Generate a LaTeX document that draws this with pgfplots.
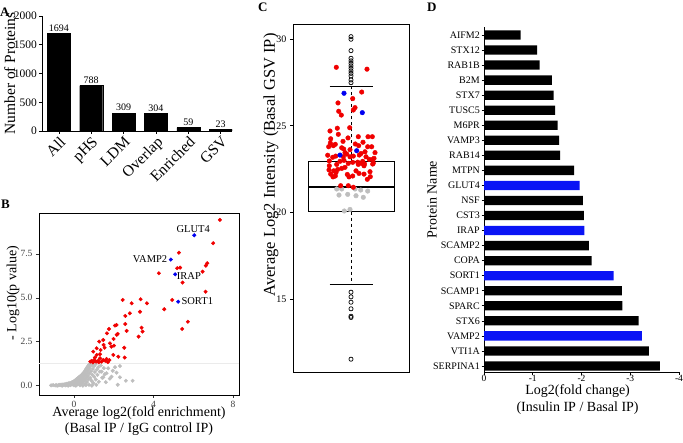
\documentclass[border=0pt]{standalone}
\usepackage{pgfplots}
\pgfplotsset{compat=1.18}
\usepackage{fontspec}
\setmainfont{Liberation Serif}
\newcommand\fs[1]{\fontsize{#1}{#1}\selectfont}
\definecolor{ptred}{HTML}{F00000}
\definecolor{ptblue}{HTML}{0000F0}
\definecolor{ptgray}{HTML}{BEBEBE}
\definecolor{barblue}{HTML}{0A14F5}
\begin{document}
\begin{tikzpicture}
\path[use as bounding box] (0pt,0pt) rectangle (683pt,442pt);
% panel letters
\node[anchor=north west, inner sep=0pt, font=\bfseries\fs{13}] at (0pt,434pt) {A};
\node[anchor=north west, inner sep=0pt, font=\bfseries\fs{13}] at (1pt,242pt) {B};
\node[anchor=north west, inner sep=0pt, font=\bfseries\fs{13}] at (258pt,439pt) {C};
\node[anchor=north west, inner sep=0pt, font=\bfseries\fs{13}] at (427pt,439pt) {D};

% ---------------- Panel A ----------------
\begin{axis}[at={(42pt,311pt)}, anchor=south west, scale only axis,
  width=190pt, height=115pt,
  axis x line*=bottom, axis y line*=left, axis line style={-, line width=0.8pt},
  xmin=-0.52, xmax=5.35, ymin=0, ymax=2000,
  xtick={0,...,5}, xticklabels={All,pHS,LDM,Overlap,Enriched,GSV},
  ytick={0,500,1000,1500,2000},
  tick align=outside, major tick length=3pt, tick style={black, line width=0.6pt},
  x tick label style={rotate=45, anchor=north east, font=\fs{15.5}, inner sep=1pt},
  y tick label style={font=\fs{11.5}, inner sep=2pt},
  /pgf/number format/assume math mode=true,
  /pgf/number format/1000 sep={},
  scaled y ticks=false,
  ylabel={Number of Proteins},
  ylabel style={font=\fs{15.5}, at={(axis description cs:-0.17,0.5)}, anchor=center},
  ybar, bar width=23pt,
  nodes near coords,
  every node near coord/.append style={font=\fs{10}, black, inner sep=2pt},
]
\addplot[fill=black, draw=black] coordinates {(0,1694) (1,788) (2,309) (3,304) (4,59) (5,23)};
\end{axis}

% ---------------- Panel B ----------------
\begin{axis}[at={(39pt,47pt)}, anchor=south west, scale only axis,
  width=200pt, height=182pt,
  xmin=-1.76, xmax=8.3, ymin=-0.53, ymax=9.83,
  xtick={0,4,8}, ytick={0,2.5,5,7.5},
  yticklabel style={/pgf/number format/.cd, fixed, fixed zerofill, precision=1},
  xtick pos=bottom, ytick pos=left,
  tick align=outside, major tick length=3pt, tick style={black!80, line width=0.6pt},
  axis line style={line width=0.9pt},
  tick label style={font=\fs{9.5}, text=black!75},
  /pgf/number format/assume math mode=true,
  xlabel={Average log2(fold enrichment)\\(Basal IP / IgG control IP)},
  xlabel style={font=\fontsize{14}{16}\selectfont, align=center, inner sep=0pt,
     at={(axis description cs:0.5,-0.065)}, anchor=north},
  ylabel={- Log10(p value)},
  ylabel style={font=\fs{14}, at={(axis description cs:-0.13,0.56)}, anchor=center},
]
\addplot[color=black!8, line width=0.5pt] coordinates {(-1.76,1.3) (8.3,1.3)};
% non-significant (gray)
\addplot[only marks, mark=*, mark size=1.8pt, color=ptgray] coordinates {
(-1.15,0.02) (-1.05,0.03) (-0.95,0.01) (-0.9,0.04) (-0.85,0.0) (-0.8,0.02) (-0.75,0.05) (-0.7,0.03)
(-0.65,0.06) (-0.6,0.02) (-0.6,0.0) (-0.55,0.07) (-0.5,0.04) (-0.45,0.09) (-0.42,0.02) (-0.38,0.06)
(-0.35,0.11) (-0.3,0.04) (-0.3,0.0) (-0.28,0.13) (-0.25,0.08) (-0.2,0.15) (-0.18,0.03) (-0.15,0.1)
(-0.12,0.18) (-0.1,0.06) (-0.08,0.2) (-0.05,0.12) (-0.02,0.24) (0.0,0.02) (0.02,0.16) (0.05,0.28)
(0.06,0.08) (0.08,0.32) (0.1,0.2) (0.1,0.0) (0.12,0.36) (0.14,0.05) (0.15,0.26) (0.17,0.4)
(0.2,0.12) (0.21,0.44) (0.23,0.3) (0.25,0.48) (0.27,0.18) (0.28,0.38) (0.3,0.52) (0.3,0.02)
(0.32,0.08) (0.33,0.26) (0.35,0.56) (0.36,0.44) (0.38,0.6) (0.4,0.15) (0.41,0.34) (0.42,0.64)
(0.44,0.5) (0.45,0.68) (0.45,0.0) (0.47,0.24) (0.48,0.72) (0.5,0.42) (0.51,0.76) (0.53,0.58)
(0.55,0.82) (0.56,0.1) (0.57,0.32) (0.58,0.88) (0.6,0.66) (0.6,0.03) (0.61,0.94) (0.63,0.48)
(0.64,1.0) (0.65,0.2) (0.67,0.78) (0.68,1.06) (0.7,0.56) (0.71,1.12) (0.72,0.36) (0.73,0.9)
(0.75,1.18) (0.76,0.05) (0.77,0.7) (0.78,1.22) (0.8,1.0) (0.82,0.44) (0.84,1.15) (0.85,0.82)
(0.88,0.28) (0.9,1.2) (0.9,0.0) (0.92,0.62) (0.95,0.95) (0.97,0.15) (1.0,1.1) (1.02,0.5)
(1.05,0.78) (1.08,1.22) (1.1,0.35) (1.12,0.05) (1.15,0.92) (1.18,0.62) (1.22,1.05) (1.25,0.22)
(1.3,0.8) (1.35,1.15) (1.39,0.8) (1.42,0.45) (1.47,0.48) (1.5,1.0) (1.55,0.65) (1.6,0.2)
(1.64,0.71) (1.72,0.99) (1.8,0.4) (1.89,0.51) (1.95,0.85) (2.06,1.05) (2.14,0.74) (2.2,0.05)
(2.31,1.12) (2.31,0.48) (2.61,0.28) (2.95,0.28)
};
% significant (red)
\addplot[only marks, mark=*, mark size=1.8pt, color=ptred] coordinates {
(7.34,9.44) (7.0,8.11) (5.28,7.57) (5.19,6.69) (5.34,6.72) (4.27,6.40) (5.46,5.87) (6.47,6.49)
(6.63,6.83) (6.70,6.97) (6.62,5.35) (4.94,4.88) (4.54,4.35) (5.73,3.64) (5.44,3.23)
(2.45,4.88) (2.90,4.69) (3.67,4.69) (3.32,4.21) (2.58,3.97) (2.81,4.12) (2.58,3.51) (2.65,3.12)
(3.40,3.30) (3.45,3.08) (3.25,2.79) (3.35,4.92) (2.06,3.42) (2.14,3.46) (1.76,3.23) (1.66,2.98)
(1.99,2.66) (1.47,2.60) (1.27,2.51) (1.81,2.41) (1.49,2.32) (1.88,2.22) (2.01,2.28) (2.53,2.16)
(1.14,2.13) (1.34,2.03) (1.54,2.16) (0.97,1.94) (1.14,1.75) (1.31,1.79) (1.98,1.75) (2.23,1.65)
(2.55,1.60) (1.31,1.56) (1.64,1.52) (1.47,1.46) (1.22,1.42) (0.89,1.41) (1.02,1.46) (1.11,1.37)
(1.39,1.37) (1.57,1.42) (1.78,1.46) (0.82,1.37) (0.95,1.33) (1.25,1.33) (1.7,1.34) (1.05,1.6)
(2.2,2.95) (2.15,2.9)
};
% GSV markers (blue)
\addplot[only marks, mark=*, mark size=1.8pt, color=ptblue] coordinates {
(6.05,8.56) (4.87,7.18) (5.09,6.34) (5.24,4.78)
};
\node[font=\fs{10.5}, anchor=south, inner sep=1pt] at (axis cs:6.0,8.62) {GLUT4};
\node[font=\fs{10.5}, anchor=east, inner sep=1pt] at (axis cs:4.75,7.18) {VAMP2};
\node[font=\fs{10.5}, anchor=west, inner sep=1pt] at (axis cs:5.12,6.25) {IRAP};
\node[font=\fs{10.5}, anchor=west, inner sep=1pt] at (axis cs:5.35,4.8) {SORT1};
\end{axis}

% ---------------- Panel C ----------------
\begin{axis}[at={(293pt,70pt)}, anchor=south west, scale only axis,
  width=116pt, height=348pt,
  xmin=0, xmax=116, ymin=10.78, ymax=30.88,
  xtick=\empty, ytick={15,20,25,30}, ytick pos=left,
  tick align=outside, major tick length=3pt, tick style={black, line width=0.6pt},
  axis line style={line width=0.9pt},
  tick label style={font=\fs{10}},
  /pgf/number format/assume math mode=true,
  ylabel={Average Log2 Intensity (Basal GSV IP)},
  ylabel style={font=\fs{16.5}, at={(axis description cs:-0.19,0.595)}, anchor=center},
]
% box and whiskers
\addplot[black, line width=0.8pt] coordinates {(15.3,20.05) (101.3,20.05) (101.3,22.95) (15.3,22.95) (15.3,20.05)};
\addplot[black, line width=0.7pt, dashed] coordinates {(58,22.95) (58,27.26)};
\addplot[black, line width=0.7pt, dashed] coordinates {(58,20.05) (58,15.84)};
\addplot[black, line width=0.8pt] coordinates {(36.5,27.26) (80,27.26)};
\addplot[black, line width=0.8pt] coordinates {(36.5,15.84) (80,15.84)};
% outliers
\addplot[only marks, mark=o, mark size=2.1pt, black, mark options={line width=0.7pt}] coordinates {
(58,30.15) (58,30.0) (58,29.34) (58,28.9) (58,28.75) (58,28.61) (58,28.46) (58,28.32) (58,28.17)
(58,28.03) (58,27.88) (58,27.65) (58,27.49)
(58,15.39) (58,15.12) (58,14.81) (58,14.43) (58,14.0) (58,13.93) (58,11.52)
};
% gray points
\addplot[only marks, mark=*, mark size=2.3pt, color=ptgray] coordinates {
(43.7,21.35) (48.7,21.35) (62,21.35) (67.7,21.29) (74.7,21.23) (46,21.0) (54.7,21.04) (63,20.96)
(70.3,20.87) (51.3,20.08) (57,20.17)
};
% red points
\addplot[only marks, mark=*, mark size=2.3pt, color=ptred] coordinates {
(43.3,28.38) (74,28.27) (68.7,26.95) (45,26.32) (59.7,26.57) (45.7,25.84) (48.3,25.62) (62,26.05) (60.3,25.91)
(56.7,24.89) (37,24.70) (44.3,24.86) (37.7,24.25) (45.3,24.51) (65.3,24.37) (75,24.37) (79.3,24.37)
(62.3,23.95) (65.7,23.85) (35.7,23.79) (40.3,23.85) (42.3,23.93) (48.7,23.73) (50.7,23.66) (74.7,23.79) (78.7,23.79) (82,23.45)
(34.7,23.30) (39.7,23.18) (42.7,23.25) (50.3,23.21) (53.7,23.37) (57,23.21) (60.3,23.25) (66.3,23.31) (73,23.21) (76.3,23.06) (79.7,23.06)
(36.3,22.69) (43.7,22.77) (40.7,22.40) (48.7,22.54) (55.3,22.83) (59.7,22.89) (65.3,22.77) (68.7,22.83) (71,22.69) (79.7,22.79)
(37.7,22.21) (42.3,22.10) (54.3,22.19) (59.7,22.10) (66,22.25) (71,22.21) (77,22.35) (74.3,21.91) (77.3,22.06)
(47.7,21.54) (55.3,21.54) (60.3,21.45)
(36.3,22.97) (44.7,22.48) (52,22.6) (69.7,22.95) (80.3,22.85) (36,22.45) (43,22.3) (64.7,22.9) (71.5,22.8)
(40,22.05) (81,23.12) (52,23.45) (68,23.4) (57,23.62) (37.3,24.0) (70,24.05) (50,24.1) (55,24.3) (72,23.5)
(47,22.95) (63,22.4) (56,22.05) (51,23.0)
};
% blue points
\addplot[only marks, mark=*, mark size=2.3pt, color=ptblue] coordinates {
(51,26.88) (69.3,25.76) (47,23.31) (63.7,23.56)
};
% median
\addplot[black, line width=2pt] coordinates {(15.3,21.45) (101.3,21.45)};
\end{axis}

% ---------------- Panel D ----------------
\begin{axis}[at={(484pt,70pt)}, anchor=south west, scale only axis,
  width=195pt, height=345pt,
  x dir=reverse,
  axis x line*=bottom, axis y line*=left, axis line style={-, line width=0.9pt},
  xmin=-4, xmax=0, ymin=-0.4, ymax=22.53,
  xtick={0,-1,-2,-3,-4}, xticklabels={0,-1,-2,-3,-4},
  ytick={0,...,22},
  yticklabels={SERPINA1,VTI1A,VAMP2,STX6,SPARC,SCAMP1,SORT1,COPA,SCAMP2,IRAP,CST3,NSF,GLUT4,MTPN,RAB14,VAMP3,M6PR,TUSC5,STX7,B2M,RAB1B,STX12,AIFM2},
  tick align=outside, major tick length=2.5pt, tick style={black, line width=0.6pt},
  y tick label style={font=\fs{10}, inner sep=1.5pt},
  x tick label style={font=\fs{9.5}, inner sep=0.5pt},
  xbar, bar width=9.3pt,
  xlabel={Log2(fold change)\\(Insulin IP / Basal IP)},
  xlabel style={font=\fontsize{14}{17}\selectfont, align=center, inner sep=0pt,
     at={(axis description cs:0.48,-0.036)}, anchor=north},
  ylabel={Protein Name},
  ylabel style={font=\fs{14}, at={(axis description cs:-0.267,0.5)}, anchor=center},
]
\addplot[fill=black, draw=none, bar shift=0pt] coordinates {
(-3.61,0) (-3.38,1) (-3.17,3) (-2.84,4) (-2.83,5) (-2.21,7) (-2.15,8) (-2.05,10) (-2.03,11)
(-1.85,13) (-1.56,14) (-1.54,15) (-1.51,16) (-1.46,17) (-1.43,18) (-1.39,19) (-1.14,20) (-1.09,21) (-0.75,22)
};
\addplot[fill=barblue, draw=none, bar shift=0pt] coordinates {
(-3.24,2) (-2.66,6) (-2.06,9) (-1.96,12)
};
\end{axis}
\end{tikzpicture}
\end{document}
